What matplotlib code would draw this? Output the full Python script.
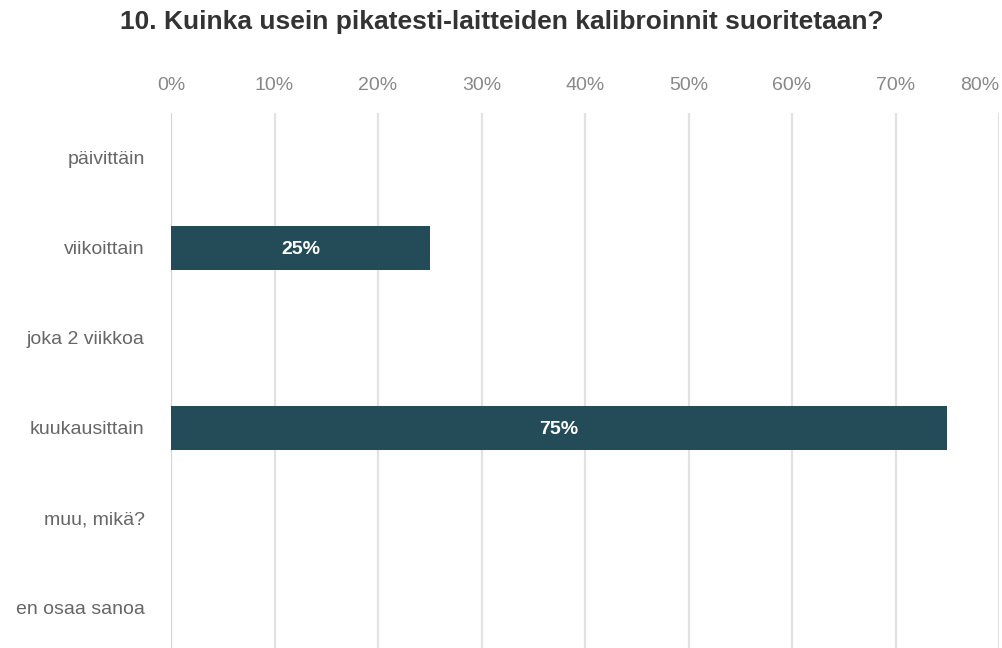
import numpy as np
import matplotlib.pyplot as plt

plt.rcParams['font.family'] = ['Liberation Sans', 'DejaVu Sans']

categories = ['päivittäin', 'viikoittain', 'joka 2 viikkoa',
              'kuukausittain', 'muu, mikä?', 'en osaa sanoa']
shares = [0, 25, 0, 75, 0, 0]
ticks = [0, 10, 20, 30, 40, 50, 60, 70, 80]

fig = plt.figure(figsize=(10.03, 6.48), dpi=100)
ax = fig.add_axes([171 / 1003, -5 / 648, 828 / 1003, 540 / 648])

y = np.arange(len(categories))
bars = ax.barh(y, shares, height=0.48, color='#234b58', zorder=3)
for yi, v in zip(y, shares):
    if v > 0:
        ax.text(v / 2, yi, f'{v}%', ha='center', va='center_baseline',
                color='white', fontsize=14, fontweight='bold', zorder=4)

ax.set_xlim(0, 80)
ax.set_ylim(len(categories) - 0.5, -0.5)
ax.set_yticks(y)
ax.set_yticklabels(categories, fontsize=14, color='#666666')
ax.set_xticks(ticks)
ax.set_xticklabels([f'{t}%' for t in ticks], fontsize=14, color='#888888')
ax.xaxis.tick_top()
ax.tick_params(axis='x', length=0, pad=14)
ax.tick_params(axis='y', length=0, pad=19)
ax.get_xticklabels()[-1].set_horizontalalignment('right')

for t in ticks[1:]:
    ax.axvline(t, color='#e2e2e2', lw=1.6, zorder=1)
ax.axvline(0, color='#cdd3ea', lw=1.6, zorder=2)
for s in ax.spines.values():
    s.set_visible(False)

fig.text(0.5, 1 - 22 / 648, '10. Kuinka usein pikatesti-laitteiden kalibroinnit suoritetaan?',
         ha='center', va='center', fontsize=19, fontweight='bold', color='#333333')

fig.savefig('out.png', dpi=100)
